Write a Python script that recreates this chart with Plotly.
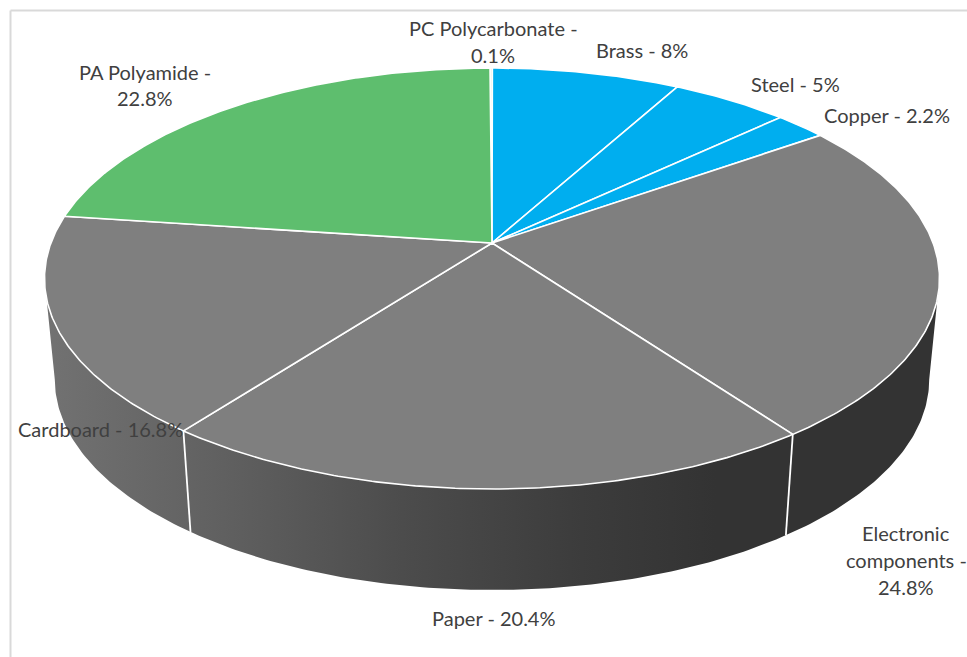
import numpy as np
import plotly.graph_objects as go

# ---- data ----
categories = ["PC Polycarbonate", "Brass", "Steel", "Copper",
              "Electronic components", "Paper", "Cardboard", "PA Polyamide"]
values = [0.1, 8, 5, 2.2, 24.8, 20.4, 16.8, 22.8]
slice_colors = ["#d5e8d8", "#00aeef", "#00aeef", "#00aeef",
                "#7f7f7f", "#7f7f7f", "#7f7f7f", "#5ebe6e"]

# ---- label layout: category -> lines of (text template, x, y) ----
label_lines = {
    "PC Polycarbonate": [("{n} -", 493, 28), ("{v}%", 493, 55)],
    "Brass": [("{n} - {v}%", 642, 50)],
    "Steel": [("{n} - {v}%", 795, 84)],
    "Copper": [("{n} - {v}%", 887, 115)],
    "Electronic components": [("Electronic", 906, 533), ("components -", 906, 560), ("{v}%", 906, 587)],
    "Paper": [("{n} - {v}%", 493, 618)],
    "Cardboard": [("{n} - {v}%", 100, 429)],
    "PA Polyamide": [("{n} -", 145, 72), ("{v}%", 145, 98)],
}

# ---- perspective projection of the pie disc onto the page ----
W, H = 967, 657
CX, CY = 492.0, 243.0
TOP_Y, BOT_Y = 68.0, 489.0
HALF_W = 447.5
DEPTH = 101.0
SHRINK = 0.977
START_DEG = -0.3

# y(v) = (a v + CY) / (c v + 1) with y(1)=TOP_Y, y(-1)=BOT_Y
c = (2 * CY - TOP_Y - BOT_Y) / (TOP_Y - BOT_Y)
a = TOP_Y * c + TOP_Y - CY
k = HALF_W * np.sqrt(1 - c * c)


def rim(theta, wall=False):
    u = np.sin(theta)
    v = np.cos(theta)
    den = 1 + c * v
    x = CX + k * u / den
    y = (a * v + CY) / den
    if wall:
        x = CX + (x - CX) * SHRINK
        y = y + DEPTH
    return x, y


fractions = np.array(values) / sum(values)
edges = np.concatenate([[0.0], np.cumsum(fractions)]) * 2 * np.pi + np.radians(START_DEG)

fig = go.Figure()

# side wall: the lower half of the top rim joined with the lower half of the bottom rim
side_right = np.arccos(-c)
side_left = 2 * np.pi - side_right
th = np.linspace(side_right, side_left, 240)
xt, yt = rim(th)
xb, yb = rim(th, wall=True)
fig.add_trace(go.Scatter(
    x=np.concatenate([xt, xb[::-1]]), y=np.concatenate([yt, yb[::-1]]),
    mode="lines", line=dict(width=0), fill="toself",
    fillgradient=dict(
        type="horizontal",
        colorscale=[[0.0, "#727272"], [0.2, "#606060"], [0.4, "#4c4c4c"],
                    [0.6, "#3c3c3c"], [0.75, "#333333"], [1.0, "#333333"]],
    ),
    hoverinfo="skip", showlegend=False,
))

# top face slices
for i, name in enumerate(categories):
    t = np.linspace(edges[i], edges[i + 1], max(3, int((edges[i + 1] - edges[i]) * 120)))
    x, y = rim(t)
    fig.add_trace(go.Scatter(
        x=np.concatenate([[CX], x, [CX]]), y=np.concatenate([[CY], y, [CY]]),
        mode="lines", line=dict(color="white", width=1.6),
        fill="toself", fillcolor=slice_colors[i],
        name=name, hoverinfo="skip", showlegend=False,
    ))

# white separators down the visible wall
for i in range(len(categories)):
    if side_right < edges[i + 1] < side_left:
        x0, y0 = rim(edges[i + 1])
        x1, y1 = rim(edges[i + 1], wall=True)
        fig.add_trace(go.Scatter(x=[x0, x1], y=[y0, y1], mode="lines",
                                 line=dict(color="white", width=1.8),
                                 hoverinfo="skip", showlegend=False))

# labels
annotations = []
for name, val in zip(categories, values):
    for tmpl, lx, ly in label_lines[name]:
        annotations.append(dict(
            x=lx, y=ly, xref="x", yref="y", showarrow=False,
            text=tmpl.format(n=name, v=f"{val:g}"),
            xanchor="center", yanchor="middle",
            font=dict(family="Lato", size=20, color="#404040"),
        ))

frame = dict(color="#d9d9d9", width=2)
fig.update_layout(
    width=W, height=H, margin=dict(l=0, r=0, t=0, b=0),
    paper_bgcolor="white", plot_bgcolor="white", showlegend=False,
    xaxis=dict(range=[0, W], visible=False, fixedrange=True),
    yaxis=dict(range=[H, 0], visible=False, fixedrange=True),
    annotations=annotations,
    shapes=[
        dict(type="line", xref="x", yref="y", x0=10.5, x1=10.5, y0=10.5, y1=H, line=frame),
        dict(type="line", xref="x", yref="y", x0=10.5, x1=W, y0=10.5, y1=10.5, line=frame),
    ],
)

fig.write_html("out.html", config={"displayModeBar": False},
               post_script="document.body.style.margin='0';document.body.style.overflow='hidden';")
